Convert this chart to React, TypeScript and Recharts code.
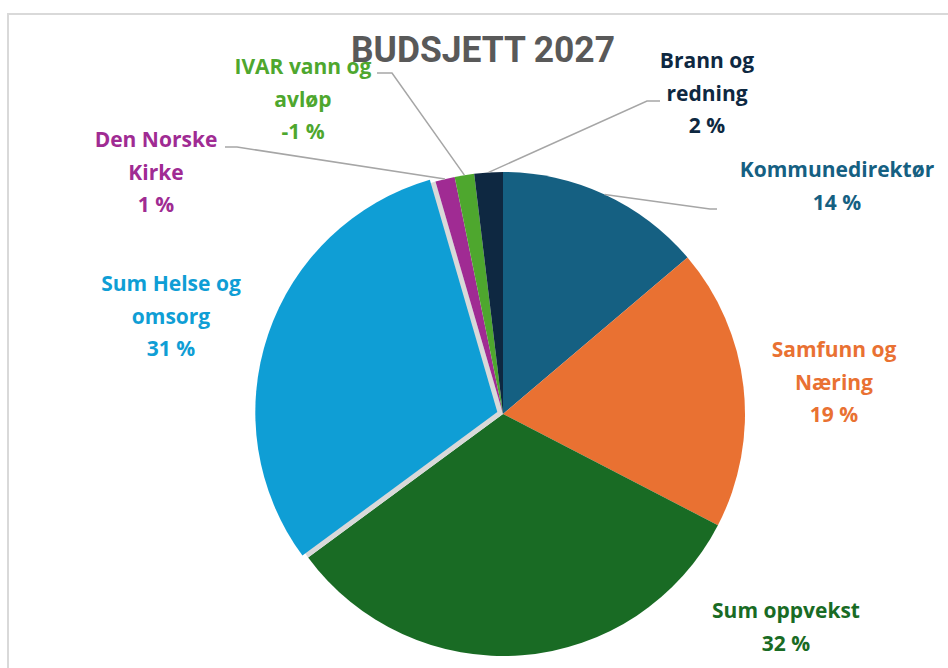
import React from "react";
import { Cell, Pie, PieChart } from "recharts";

const categories = [
  "Kommunedirektør",
  "Samfunn og Næring",
  "Sum oppvekst",
  "Sum Helse og omsorg",
  "Den Norske Kirke",
  "IVAR vann og avløp",
  "Brann og redning",
];
// share of budget in percent (IVAR is negative, drawn by its size)
const shares = [13.8, 18.8, 32.3, 30.6, 1.3, -1.3, 1.9];
const colors = ["#156082", "#E97132", "#196B24", "#0F9ED5", "#A02B93", "#4EA72E", "#0E2841"];
const labelLines = [
  ["Kommunedirektør"],
  ["Samfunn og", "Næring"],
  ["Sum oppvekst"],
  ["Sum Helse og", "omsorg"],
  ["Den Norske", "Kirke"],
  ["IVAR vann og", "avløp"],
  ["Brann og", "redning"],
];

const EXPLODED = 3; // Sum Helse og omsorg is pulled out
const CX = 498; // chart margin adds 5px
const CY = 409;
const R = 242;
const EXPLODE_PX = 6;
const RAD = Math.PI / 180;

// where each label block sits, and the elbow of its leader line
type LabelPos = { x: number; y: number; elbow?: [number, number]; end?: number };
const labelPos: LabelPos[] = [
  { x: 837, y: 177, elbow: [710, 209], end: 717 },
  { x: 834, y: 357 },
  { x: 786, y: 618 },
  { x: 171, y: 291 },
  { x: 156, y: 147, elbow: [237, 147], end: 225 },
  { x: 303, y: 74, elbow: [392, 73], end: 377 },
  { x: 707, y: 68, elbow: [647, 101], end: 660 },
];

const data = categories.map((name, i) => ({
  name,
  value: Math.abs(shares[i]),
  pct: Math.round(shares[i]),
}));

const font = "'Open Sans', Roboto, sans-serif";

function renderLabel(props: any) {
  const { cx, cy, midAngle, outerRadius, index } = props;
  const pos = labelPos[index];
  const color = colors[index];
  const lines = [...labelLines[index], `${data[index].pct} %`];
  const sx = cx + outerRadius * Math.cos(-midAngle * RAD);
  const sy = cy + outerRadius * Math.sin(-midAngle * RAD);
  return (
    <g key={`lbl-${index}`}>
      {pos.elbow && (
        <polyline
          points={`${sx},${sy} ${pos.elbow[0]},${pos.elbow[1]} ${pos.end},${pos.elbow[1]}`}
          fill="none"
          stroke="#a6a6a6"
          strokeWidth={1.5}
        />
      )}
      {lines.map((t, j) => (
        <text
          key={j}
          x={pos.x}
          y={pos.y + j * 32.5}
          textAnchor="middle"
          fill={color}
          fontFamily={font}
          fontWeight={700}
          fontSize={21}
        >
          {t}
        </text>
      ))}
    </g>
  );
}

export default function App() {
  const mid = (() => {
    let before = 0;
    for (let i = 0; i < EXPLODED; i++) before += data[i].value;
    const total = data.reduce((s, d) => s + d.value, 0);
    return ((before + data[EXPLODED].value / 2) / total) * 360;
  })();
  const dx = EXPLODE_PX * Math.sin(mid * RAD);
  const dy = -EXPLODE_PX * Math.cos(mid * RAD);

  return (
    <div style={{ position: "absolute", left: 0, top: 0, width: 948, height: 668, background: "#fff", overflow: "hidden" }}>
      <div
        style={{
          position: "absolute",
          left: 7,
          top: 13,
          width: 960,
          height: 700,
          borderLeft: "2px solid #d9d9d9",
          borderTop: "2px solid #d9d9d9",
        }}
      />
      <PieChart width={948} height={668} style={{ position: "absolute", left: 0, top: 0 }}>
        <text
          x={483}
          y={62}
          textAnchor="middle"
          fill="#595959"
          fontFamily="Roboto, sans-serif"
          fontWeight={700}
          fontSize={37}
          textLength={264}
          lengthAdjust="spacingAndGlyphs"
        >
          BUDSJETT 2027
        </text>
        <Pie
          data={data}
          dataKey="value"
          nameKey="name"
          cx={CX}
          cy={CY}
          outerRadius={R}
          startAngle={90}
          endAngle={-270}
          stroke="none"
          label={renderLabel}
          labelLine={false}
          isAnimationActive={false}
        >
          {data.map((d, i) => (
            <Cell key={d.name} fill={i === EXPLODED ? "#d9d9d9" : colors[i]} />
          ))}
        </Pie>
        <Pie
          data={data}
          dataKey="value"
          nameKey="name"
          cx={CX + dx}
          cy={CY + dy}
          outerRadius={R}
          startAngle={90}
          endAngle={-270}
          stroke="none"
          label={false}
          labelLine={false}
          isAnimationActive={false}
        >
          {data.map((d, i) => (
            <Cell key={d.name} fill={i === EXPLODED ? colors[i] : "none"} />
          ))}
        </Pie>
      </PieChart>
    </div>
  );
}
